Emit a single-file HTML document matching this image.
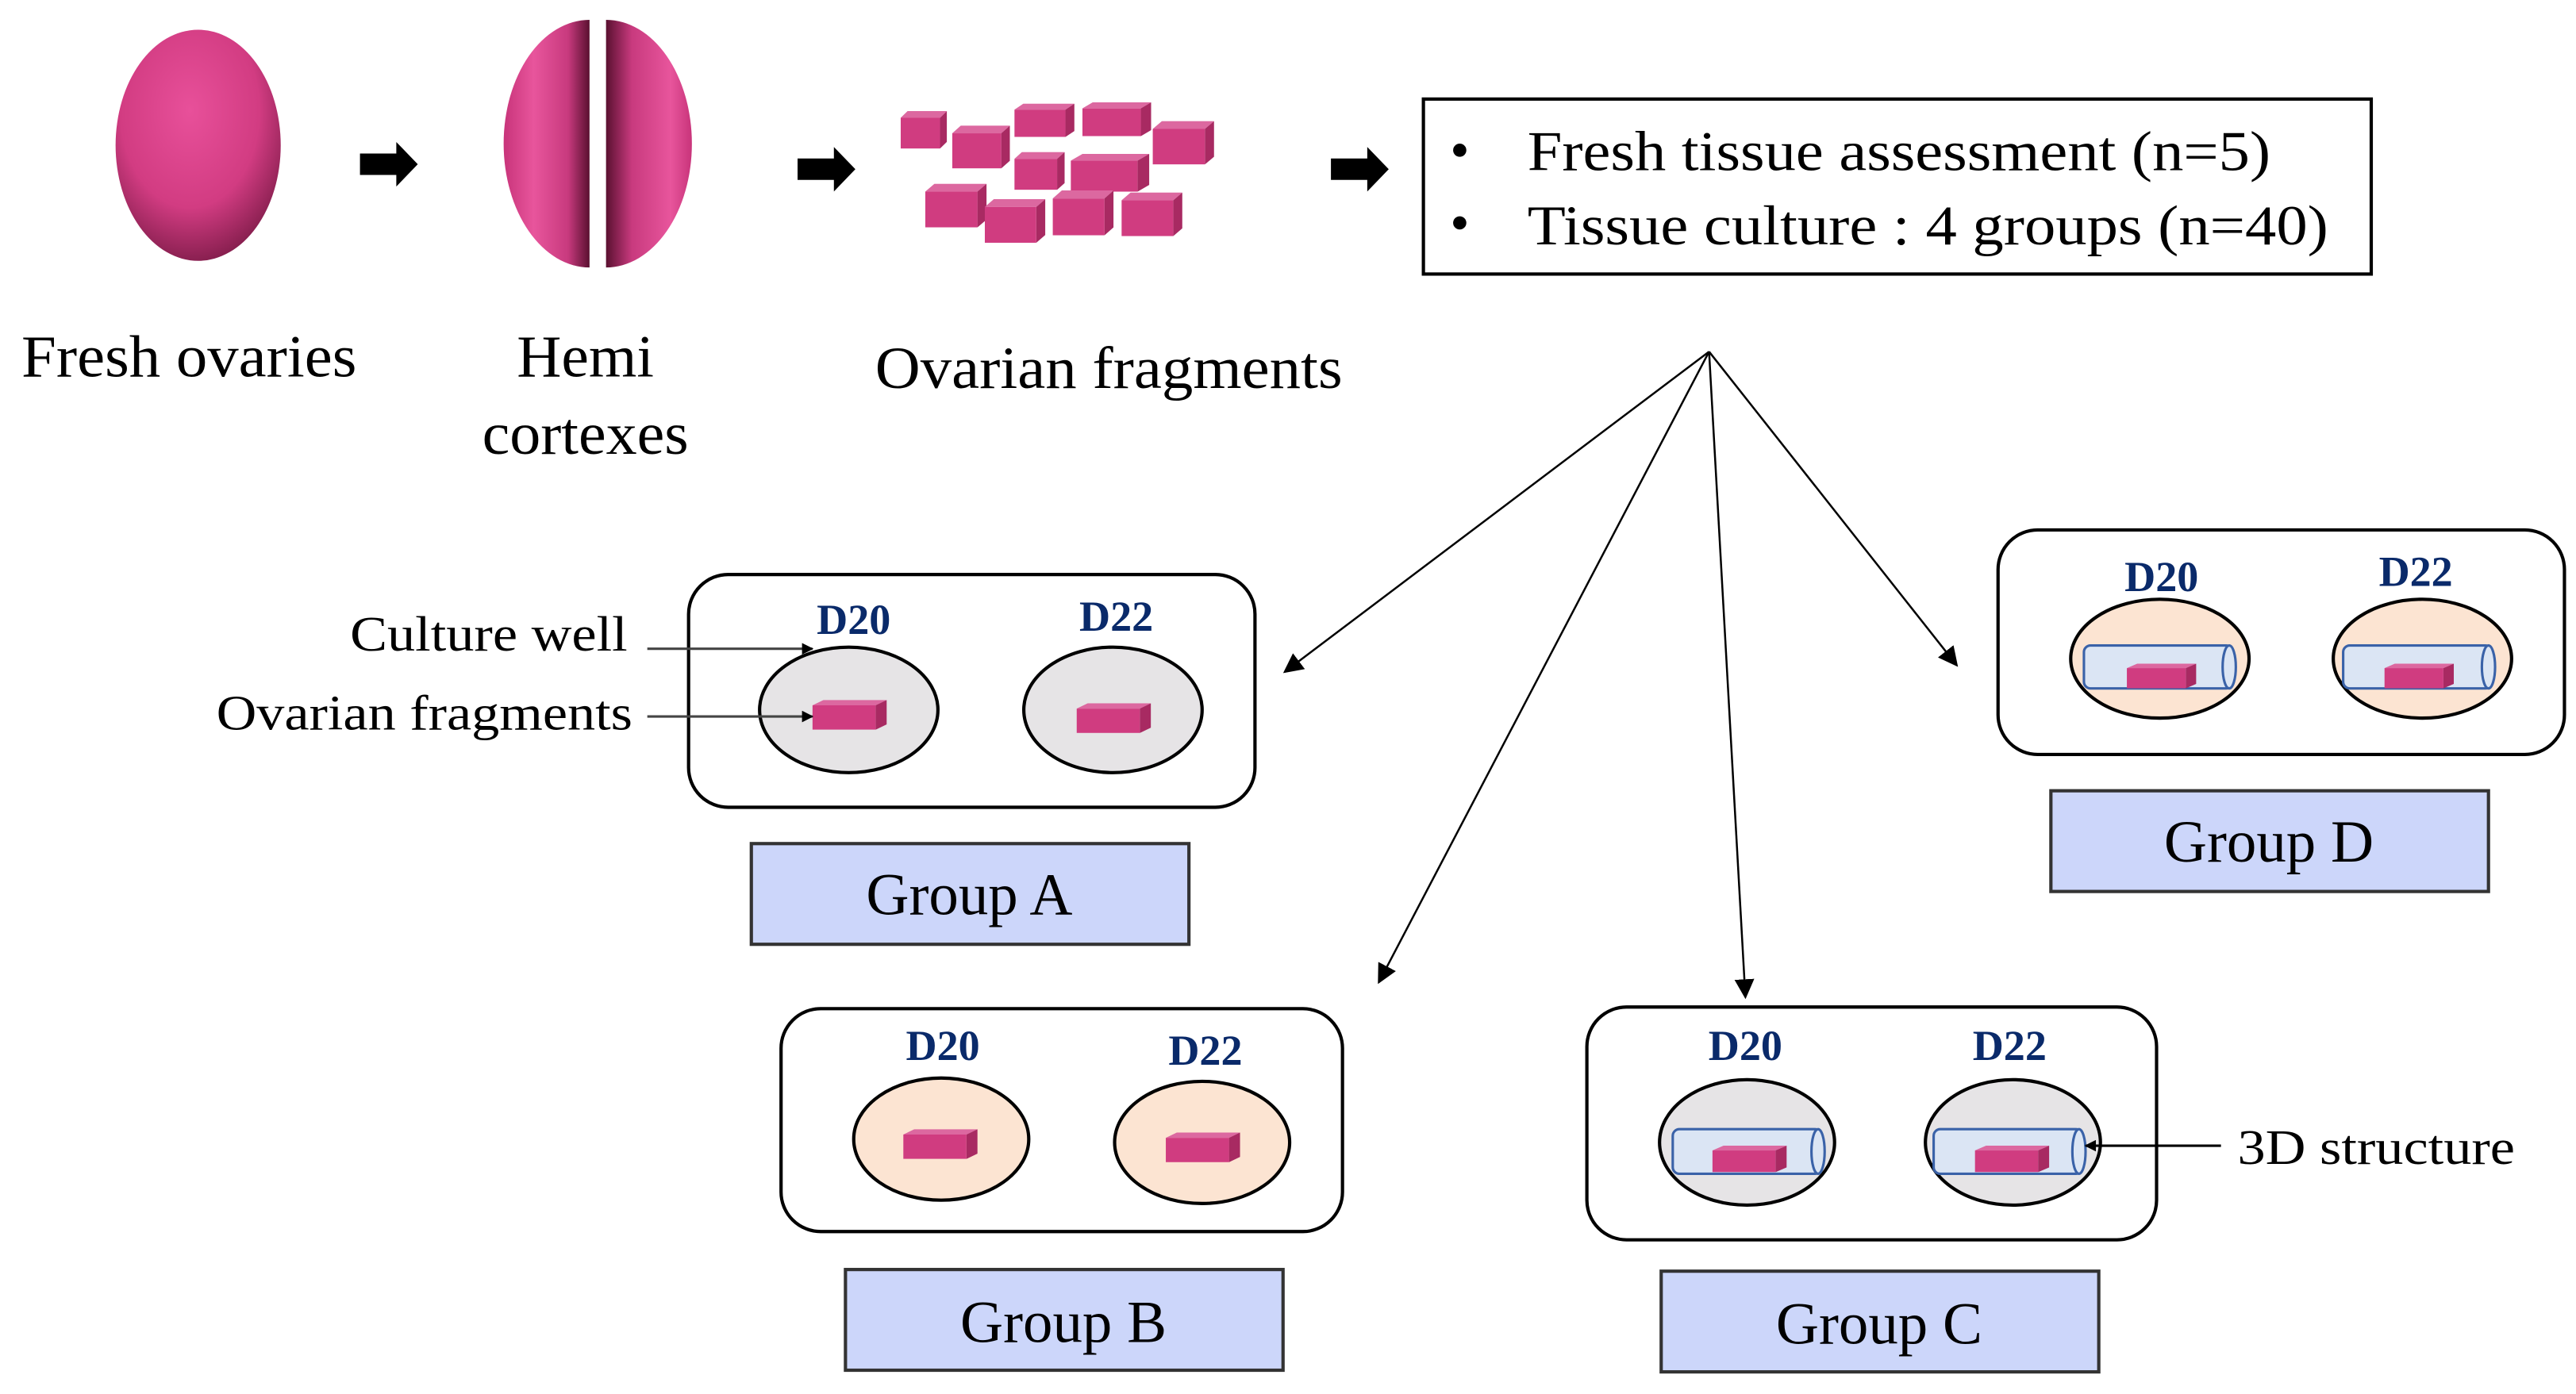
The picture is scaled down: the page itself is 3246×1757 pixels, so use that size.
<!DOCTYPE html>
<html><head><meta charset="utf-8"><style>
html,body{margin:0;padding:0;background:#fff;}
svg{display:block;}
text{font-family:"Liberation Serif",serif;}
</style></head><body>
<svg width="3246" height="1757" viewBox="0 0 1560 844.4" xmlns="http://www.w3.org/2000/svg">
<defs>
<radialGradient id="ov" cx="0.45" cy="0.35" r="0.7">
<stop offset="0" stop-color="#e8509a"/><stop offset="0.6" stop-color="#d23c82"/><stop offset="1" stop-color="#7a1a46"/>
</radialGradient>
<linearGradient id="hl" x1="0" y1="0" x2="1" y2="0">
<stop offset="0" stop-color="#c8347a"/><stop offset="0.35" stop-color="#e8559c"/><stop offset="0.75" stop-color="#c83a7e"/><stop offset="1" stop-color="#5a1030"/>
</linearGradient>
<linearGradient id="hr" x1="0" y1="0" x2="1" y2="0">
<stop offset="0" stop-color="#5a1030"/><stop offset="0.3" stop-color="#c83a7e"/><stop offset="0.75" stop-color="#e8559c"/><stop offset="1" stop-color="#c8347a"/>
</linearGradient>
<symbol id="cube" viewBox="0 0 100 100" preserveAspectRatio="none">
<polygon points="0,18 15,0 100,0 85,18" fill="#dc68a0"/>
<polygon points="85,18 100,0 100,82 85,100" fill="#a82a62"/>
<rect x="0" y="18" width="85" height="82" fill="#d03c80"/>
</symbol>
<marker id="ah" viewBox="0 0 10 10" refX="9" refY="5" markerWidth="7" markerHeight="7" orient="auto-start-reverse" markerUnits="userSpaceOnUse">
<path d="M0,0 L10,5 L0,10 z" fill="#000"/>
</marker>
<marker id="ah2" viewBox="0 0 10 10" refX="9" refY="5" markerWidth="12" markerHeight="12" orient="auto" markerUnits="userSpaceOnUse">
<path d="M0,0 L10,5 L0,10 z" fill="#000"/>
</marker>
</defs>

<!-- ovary -->
<ellipse cx="120" cy="88" rx="50" ry="70" fill="url(#ov)"/>
<!-- hemi -->
<path d="M357,12 A52,75 0 0 0 357,162 Z" fill="url(#hl)"/>
<path d="M367,12 A52,75 0 0 1 367,162 Z" fill="url(#hr)"/>
<!-- fat arrows -->
<polygon points="218,93 240,93 240,86 253,99.5 240,113 240,106 218,106" fill="#000"/>
<polygon points="483,96 505,96 505,89 518,102.5 505,116 505,109 483,109" fill="#000"/>
<polygon points="806,96 828,96 828,89 841,102.5 828,116 828,109 806,109" fill="#000"/>

<!-- fragments -->
<g transform="translate(528.6,48.05) scale(0.16019)">
<use href="#cube" x="105" y="120" width="175" height="142"/>
<use href="#cube" x="300" y="175" width="218" height="162"/>
<use href="#cube" x="535" y="92" width="227" height="126"/>
<use href="#cube" x="792" y="87" width="260" height="128"/>
<use href="#cube" x="1058" y="158" width="232" height="164"/>
<use href="#cube" x="535" y="275" width="190" height="143"/>
<use href="#cube" x="748" y="282" width="297" height="143"/>
<use href="#cube" x="198" y="395" width="232" height="165"/>
<use href="#cube" x="423" y="453" width="229" height="165"/>
<use href="#cube" x="680" y="420" width="230" height="170"/>
<use href="#cube" x="940" y="428" width="230" height="165"/>
</g>

<!-- labels top -->
<text x="13" y="228" font-size="36" textLength="203" lengthAdjust="spacingAndGlyphs">Fresh ovaries</text>
<text x="313" y="228" font-size="36" textLength="83" lengthAdjust="spacingAndGlyphs">Hemi</text>
<text x="292" y="275" font-size="36" textLength="125" lengthAdjust="spacingAndGlyphs">cortexes</text>
<text x="530" y="235" font-size="36" textLength="283" lengthAdjust="spacingAndGlyphs">Ovarian fragments</text>

<!-- info box -->
<rect x="862" y="60" width="574" height="106" fill="#fff" stroke="#000" stroke-width="2"/>
<circle cx="884" cy="91" r="4" fill="#000"/>
<circle cx="884" cy="135" r="4" fill="#000"/>
<text x="925" y="103" font-size="34" textLength="450" lengthAdjust="spacingAndGlyphs">Fresh tissue assessment (n=5)</text>
<text x="925" y="148" font-size="34" textLength="485" lengthAdjust="spacingAndGlyphs">Tissue culture : 4 groups (n=40)</text>

<!-- branch lines -->
<g stroke="#000" stroke-width="1.2" fill="none">
<line x1="1035" y1="213" x2="778" y2="407" marker-end="url(#ah2)"/>
<line x1="1035" y1="213" x2="835" y2="595" marker-end="url(#ah2)"/>
<line x1="1035" y1="213" x2="1057" y2="604" marker-end="url(#ah2)"/>
<line x1="1035" y1="213" x2="1185" y2="403" marker-end="url(#ah2)"/>
</g>

<!-- Group A -->
<rect x="417" y="348" width="343" height="141" rx="24" fill="#fff" stroke="#000" stroke-width="2"/>
<ellipse cx="514" cy="430" rx="54" ry="38" fill="#e6e4e6" stroke="#000" stroke-width="2"/>
<ellipse cx="674" cy="430" rx="54" ry="38" fill="#e6e4e6" stroke="#000" stroke-width="2"/>
<use href="#cube" x="492" y="424" width="45" height="18"/>
<use href="#cube" x="652" y="426" width="45" height="18"/>
<text x="517" y="384" font-size="26" font-weight="bold" fill="#0a2a6a" text-anchor="middle">D20</text>
<text x="676" y="382" font-size="26" font-weight="bold" fill="#0a2a6a" text-anchor="middle">D22</text>
<text x="380" y="394" font-size="30" text-anchor="end" textLength="168" lengthAdjust="spacingAndGlyphs">Culture well</text>
<text x="383" y="442" font-size="30" text-anchor="end" textLength="252" lengthAdjust="spacingAndGlyphs">Ovarian fragments</text>
<line x1="392" y1="393" x2="492" y2="393" stroke="#444" stroke-width="1.5" marker-end="url(#ah)"/>
<line x1="392" y1="434" x2="492" y2="434" stroke="#444" stroke-width="1.5" marker-end="url(#ah)"/>
<rect x="455" y="511" width="265" height="61" fill="#ccd6fa" stroke="#333" stroke-width="2"/>
<text x="587" y="554" font-size="36" text-anchor="middle">Group A</text>

<!-- Group B -->
<rect x="473" y="611" width="340" height="135" rx="24" fill="#fff" stroke="#000" stroke-width="2"/>
<ellipse cx="570" cy="690" rx="53" ry="37" fill="#fce4d2" stroke="#000" stroke-width="2"/>
<ellipse cx="728" cy="692" rx="53" ry="37" fill="#fce4d2" stroke="#000" stroke-width="2"/>
<use href="#cube" x="547" y="684" width="45" height="18"/>
<use href="#cube" x="706" y="686" width="45" height="18"/>
<text x="571" y="642" font-size="26" font-weight="bold" fill="#0a2a6a" text-anchor="middle">D20</text>
<text x="730" y="645" font-size="26" font-weight="bold" fill="#0a2a6a" text-anchor="middle">D22</text>
<rect x="512" y="769" width="265" height="61" fill="#ccd6fa" stroke="#333" stroke-width="2"/>
<text x="644" y="813" font-size="36" text-anchor="middle">Group B</text>

<!-- Group C -->
<rect x="961" y="610" width="345" height="141" rx="24" fill="#fff" stroke="#000" stroke-width="2"/>
<ellipse cx="1058" cy="692" rx="53" ry="38" fill="#e6e4e6" stroke="#000" stroke-width="2"/>
<ellipse cx="1219" cy="692" rx="53" ry="38" fill="#e6e4e6" stroke="#000" stroke-width="2"/>
<g stroke="#3a62a8" stroke-width="1.5" fill="#dbe5f4">
<rect x="1013" y="684" width="90" height="27" rx="4"/>
<ellipse cx="1101" cy="697.5" rx="4" ry="13.5"/>
<rect x="1171" y="684" width="90" height="27" rx="4"/>
<ellipse cx="1259" cy="697.5" rx="4" ry="13.5"/>
</g>
<use href="#cube" x="1037" y="694" width="45" height="16"/>
<use href="#cube" x="1196" y="694" width="45" height="16"/>
<text x="1057" y="642" font-size="26" font-weight="bold" fill="#0a2a6a" text-anchor="middle">D20</text>
<text x="1217" y="642" font-size="26" font-weight="bold" fill="#0a2a6a" text-anchor="middle">D22</text>
<line x1="1345" y1="694" x2="1263" y2="694" stroke="#000" stroke-width="1.5" marker-end="url(#ah)"/>
<text x="1355" y="705" font-size="30" textLength="168" lengthAdjust="spacingAndGlyphs">3D structure</text>
<rect x="1006" y="770" width="265" height="61" fill="#ccd6fa" stroke="#333" stroke-width="2"/>
<text x="1138" y="814" font-size="36" text-anchor="middle">Group C</text>

<!-- Group D -->
<rect x="1210" y="321" width="343" height="136" rx="24" fill="#fff" stroke="#000" stroke-width="2"/>
<ellipse cx="1308" cy="399" rx="54" ry="36" fill="#fce4d2" stroke="#000" stroke-width="2"/>
<ellipse cx="1467" cy="399" rx="54" ry="36" fill="#fce4d2" stroke="#000" stroke-width="2"/>
<g stroke="#3a62a8" stroke-width="1.5" fill="#dbe5f4">
<rect x="1262" y="391" width="90" height="26" rx="4"/>
<ellipse cx="1350" cy="404" rx="4" ry="13"/>
<rect x="1419" y="391" width="90" height="26" rx="4"/>
<ellipse cx="1507" cy="404" rx="4" ry="13"/>
</g>
<use href="#cube" x="1288" y="402" width="42" height="15"/>
<use href="#cube" x="1444" y="402" width="42" height="15"/>
<text x="1309" y="358" font-size="26" font-weight="bold" fill="#0a2a6a" text-anchor="middle">D20</text>
<text x="1463" y="355" font-size="26" font-weight="bold" fill="#0a2a6a" text-anchor="middle">D22</text>
<rect x="1242" y="479" width="265" height="61" fill="#ccd6fa" stroke="#333" stroke-width="2"/>
<text x="1374" y="522" font-size="36" text-anchor="middle">Group D</text>
</svg>
</body></html>
